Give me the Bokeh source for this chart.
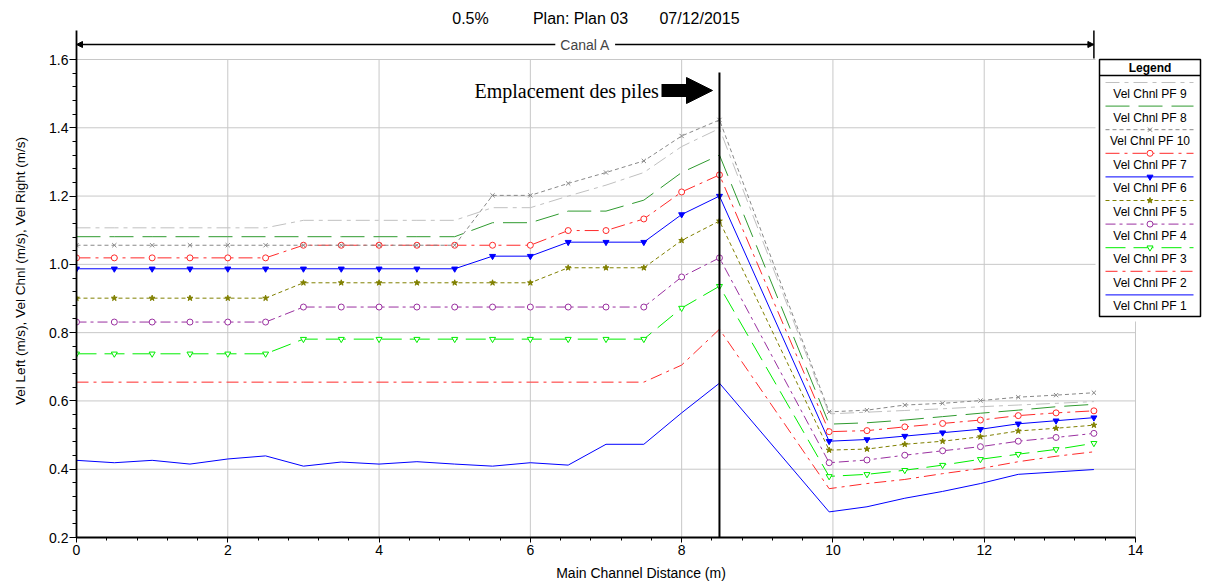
import numpy as np
from bokeh.plotting import figure
from bokeh.models import FixedTicker, Arrow, NormalHead, Label, LinearAxis, PrintfTickFormatter
from bokeh.core.properties import value
from bokeh.embed import file_html
from bokeh.resources import INLINE

# ---------------- data ----------------
distance = [0.0, 0.5, 1.0, 1.5, 2.0, 2.5, 3.0, 3.5, 4.0, 4.5, 5.0, 5.5, 6.0, 6.5, 7.0, 7.5, 8.0, 8.5,
            9.95, 10.45, 10.95, 11.45, 11.95, 12.45, 12.95, 13.45]

pf9 = [1.107, 1.107, 1.107, 1.107, 1.107, 1.107, 1.129, 1.129, 1.129, 1.129, 1.129, 1.166, 1.166,
       1.200, 1.232, 1.269, 1.345, 1.398, 0.562, 0.567, 0.572, 0.577, 0.583, 0.588, 0.593, 0.598]
pf8 = [1.081, 1.081, 1.081, 1.081, 1.081, 1.081, 1.081, 1.081, 1.081, 1.081, 1.081, 1.122, 1.122,
       1.156, 1.156, 1.188, 1.269, 1.320, 0.532, 0.536, 0.544, 0.554, 0.564, 0.573, 0.583, 0.590]
pf10 = [1.056, 1.056, 1.056, 1.056, 1.056, 1.056, 1.056, 1.056, 1.056, 1.056, 1.056, 1.202, 1.202,
        1.237, 1.269, 1.303, 1.376, 1.423, 0.568, 0.573, 0.588, 0.593, 0.601, 0.611, 0.617, 0.624]
pf7 = [1.019, 1.019, 1.019, 1.019, 1.019, 1.019, 1.056, 1.056, 1.056, 1.056, 1.056, 1.056, 1.056,
       1.099, 1.099, 1.133, 1.212, 1.262, 0.510, 0.513, 0.524, 0.534, 0.544, 0.557, 0.565, 0.571]
pf6 = [0.987, 0.987, 0.987, 0.987, 0.987, 0.987, 0.987, 0.987, 0.987, 0.987, 0.987, 1.024, 1.024,
       1.065, 1.065, 1.065, 1.146, 1.200, 0.482, 0.487, 0.497, 0.507, 0.517, 0.533, 0.542, 0.551]
pf5 = [0.901, 0.901, 0.901, 0.901, 0.901, 0.901, 0.946, 0.946, 0.946, 0.946, 0.946, 0.946, 0.946,
       0.990, 0.990, 0.990, 1.070, 1.127, 0.456, 0.459, 0.473, 0.482, 0.495, 0.512, 0.520, 0.529]
pf4 = [0.831, 0.831, 0.831, 0.831, 0.831, 0.831, 0.875, 0.875, 0.875, 0.875, 0.875, 0.875, 0.875,
       0.875, 0.875, 0.875, 0.963, 1.019, 0.419, 0.427, 0.441, 0.454, 0.466, 0.482, 0.493, 0.505]
pf3 = [0.738, 0.738, 0.738, 0.738, 0.738, 0.738, 0.781, 0.781, 0.781, 0.781, 0.781, 0.781, 0.781,
       0.781, 0.781, 0.781, 0.872, 0.936, 0.379, 0.385, 0.397, 0.412, 0.429, 0.444, 0.458, 0.476]
pf2 = [0.655, 0.655, 0.655, 0.655, 0.655, 0.655, 0.655, 0.655, 0.655, 0.655, 0.655, 0.655, 0.655,
       0.655, 0.655, 0.655, 0.705, 0.810, 0.343, 0.358, 0.370, 0.387, 0.402, 0.422, 0.438, 0.451]
pf1 = [0.426, 0.419, 0.426, 0.415, 0.430, 0.439, 0.409, 0.421, 0.415, 0.422, 0.415, 0.409, 0.419,
       0.412, 0.473, 0.473, 0.565, 0.652, 0.275, 0.290, 0.315, 0.335, 0.358, 0.385, 0.392, 0.399]

x_ticks = [0, 2, 4, 6, 8, 10, 12, 14]
y_ticks = [0.2, 0.4, 0.6, 0.8, 1.0, 1.2, 1.4, 1.6]
pile_x = 8.5
reach_name = "Canal A"
title_parts = ["0.5%", "Plan: Plan 03", "07/12/2015"]
y_label = "Vel Left (m/s), Vel Chnl (m/s), Vel Right (m/s)"
x_label = "Main Channel Distance (m)"

# ---------------- layout helpers (pixel -> data) ----------------
W, H = 1212, 584
FL, FR, FT, FB = 76, 1205, 4, 537
PX_X = (1135 - 76) / 14.0
PX_Y = (537 - 59) / 1.4

def X(px):
    return (px - FL) / PX_X

def Y(py):
    return 0.2 + (FB - py) / PX_Y

FONT = "Liberation Sans"

p = figure(width=W, height=H, output_backend="svg", toolbar_location=None,
           x_range=(0, X(FR)), y_range=(0.2, Y(FT)),
           min_border_left=FL, min_border_right=W - FR, min_border_top=FT, min_border_bottom=H - FB)
p.outline_line_color = None
p.xgrid.visible = False
p.ygrid.visible = False
p.background_fill_color = "white"
p.border_fill_color = "white"

# axes
p.xaxis.ticker = FixedTicker(ticks=x_ticks, minor_ticks=list(np.round(np.arange(0, 14.001, 0.4), 3)))
p.yaxis.ticker = FixedTicker(ticks=y_ticks, minor_ticks=list(np.round(np.arange(0.2, 1.6001, 0.04), 3)))
p.yaxis.formatter = PrintfTickFormatter(format="%.1f")
p.xaxis.bounds = (0, 14)
p.yaxis.bounds = (0.2, Y(30))
for ax in (p.xaxis[0], p.yaxis[0]):
    ax.axis_line_color = "black"
    ax.axis_line_width = 1.8
    ax.major_tick_line_color = "black"
    ax.minor_tick_line_color = "black"
    ax.major_tick_in = 0
    ax.minor_tick_in = 0
    ax.major_label_text_font = FONT
    ax.major_label_text_font_size = "14px"
    ax.major_label_text_color = "black"
    ax.axis_label_text_font = FONT
    ax.axis_label_text_font_size = "14px"
    ax.axis_label_text_font_style = "normal"
    ax.axis_label_text_color = "black"
p.xaxis.major_tick_out = 5
p.xaxis.minor_tick_out = 3
p.yaxis.major_tick_out = 7
p.yaxis.minor_tick_out = 4
p.xaxis.major_label_standoff = 2
p.yaxis.major_label_standoff = 1
p.xaxis.axis_label = x_label
p.xaxis.axis_label_standoff = 7

# second (label-only) left axis, centred where the reference's label sits
label_axis = LinearAxis(ticker=FixedTicker(ticks=[]), bounds=(0.2, 2 * Y(329) - 0.2),
                        axis_line_color=None, major_tick_line_color=None, minor_tick_line_color=None,
                        major_tick_out=0, minor_tick_out=0, major_label_text_font_size="0px",
                        axis_label=y_label, axis_label_standoff=19,
                        axis_label_text_font=FONT, axis_label_text_font_size="13.5px",
                        axis_label_text_font_style="normal", axis_label_text_color="black")
p.add_layout(label_axis, "left")

# grid lines (drawn manually so they stop at 1.6 / 14)
GRID = "#c8c8c8"
vx = [t for t in x_ticks if t > 0]
p.segment(x0=vx, y0=[y_ticks[0]] * len(vx), x1=vx, y1=[y_ticks[-1]] * len(vx),
          line_color=GRID, line_width=1, level="underlay")
hy = [t for t in y_ticks if t > y_ticks[0]]
p.segment(x0=[0] * len(hy), y0=hy, x1=[x_ticks[-1]] * len(hy), y1=hy,
          line_color=GRID, line_width=1, level="underlay")

# white margin around legend
p.quad(left=[X(1095)], right=[X(FR)], top=[Y(50)], bottom=[Y(321)],
       fill_color="white", line_color=None)

# ---------------- series ----------------
series = [
    ("Vel Chnl PF 9", pf9, "#c0c0c0", "14 5 4 5", None, None),
    ("Vel Chnl PF 8", pf8, "#2f9a2f", "24 9", None, None),
    ("Vel Chnl PF 10", pf10, "#888888", "4 3", "x", None),
    ("Vel Chnl PF 7", pf7, "#ff2a2a", "14 5 3 5", "circle", "white"),
    ("Vel Chnl PF 6", pf6, "#0000ff", "solid", "inverted_triangle", "#0000ff"),
    ("Vel Chnl PF 5", pf5, "#808000", "4 3", "star", "#808000"),
    ("Vel Chnl PF 4", pf4, "#9a30a0", "10 4 3 4", "circle", "white"),
    ("Vel Chnl PF 3", pf3, "#00ee00", "20 8", "inverted_triangle", "white"),
    ("Vel Chnl PF 2", pf2, "#ff2a2a", "12 5 3 5", None, None),
    ("Vel Chnl PF 1", pf1, "#0000ff", "solid", None, None),
]
MS = 6

for name, ys, color, dash, marker, fill in reversed(series):
    p.line(distance, ys, line_color=color, line_width=1, line_dash=dash)
    if marker is not None:
        if marker == "x":
            p.scatter(distance, ys, marker="x", size=MS, line_color=color, line_width=1)
        else:
            p.scatter(distance, ys, marker=marker, size=MS, line_color=color,
                      fill_color=fill, line_width=1)

# pile location line
p.segment(x0=[pile_x], y0=[y_ticks[0]], x1=[pile_x], y1=[Y(72)], line_color="black", line_width=2)

# ---------------- annotations ----------------
p.text(x=[X(470), X(580), X(699)], y=[Y(18)] * 3, text=title_parts,
       text_font=value(FONT), text_font_size="16px", text_align="center",
       text_baseline="middle", text_color="black")

reach_end = distance[-1]
bracket_y = Y(44)
p.segment(x0=[reach_end], y0=[Y(30)], x1=[reach_end], y1=[Y(58)], line_color="black", line_width=1.5)
p.add_layout(Arrow(x_start=0, y_start=bracket_y, x_end=reach_end, y_end=bracket_y,
                   line_color="black", line_width=1.5,
                   start=NormalHead(size=6, fill_color="black", line_color="black"),
                   end=NormalHead(size=6, fill_color="black", line_color="black")))
p.add_layout(Label(x=reach_end / 2, y=bracket_y, text=reach_name, text_align="center",
                   text_baseline="middle", text_font=FONT, text_font_size="14px",
                   background_fill_color="white", padding=5))

p.text(x=[X(474)], y=[Y(90)], text=["Emplacement des piles"], text_font=value("Liberation Serif"),
       text_font_size="20px", text_align="left", text_baseline="middle", text_color="black")
p.add_layout(Arrow(x_start=X(661), y_start=Y(90), x_end=X(712), y_end=Y(90),
                   line_color="black", line_width=13, line_cap="butt",
                   end=NormalHead(size=26, fill_color="black", line_color="black", line_width=1)))

# ---------------- custom legend ----------------
LL, LR, LT, LB = 1099, 1200, 59, 316
LC = (LL + LR) / 2
p.quad(left=[X(LL)], right=[X(LR)], top=[Y(LT)], bottom=[Y(LB)],
       fill_color="white", line_color="black", line_width=1.5)
p.segment(x0=[X(LL)], y0=[Y(75)], x1=[X(LR)], y1=[Y(75)], line_color="black", line_width=1.5)
p.text(x=[X(LC)], y=[Y(67)], text=["Legend"], text_font=value(FONT), text_font_size="12px",
       text_font_style="bold", text_align="center", text_baseline="middle", text_color="black")
for i, (name, ys, color, dash, marker, fill) in enumerate(series):
    ly = 82 + 23.6 * i
    p.line([X(1105), X(1193)], [Y(ly), Y(ly)], line_color=color, line_width=1, line_dash=dash)
    if marker is not None:
        if marker == "x":
            p.scatter([X(LC)], [Y(ly)], marker="x", size=MS, line_color=color)
        else:
            p.scatter([X(LC)], [Y(ly)], marker=marker, size=MS, line_color=color, fill_color=fill)
    p.text(x=[X(LC)], y=[Y(ly + 11.5)], text=[name], text_font=value(FONT), text_font_size="12px",
           text_align="center", text_baseline="middle", text_color="black")

open("out.html", "w").write(file_html(p, INLINE))
